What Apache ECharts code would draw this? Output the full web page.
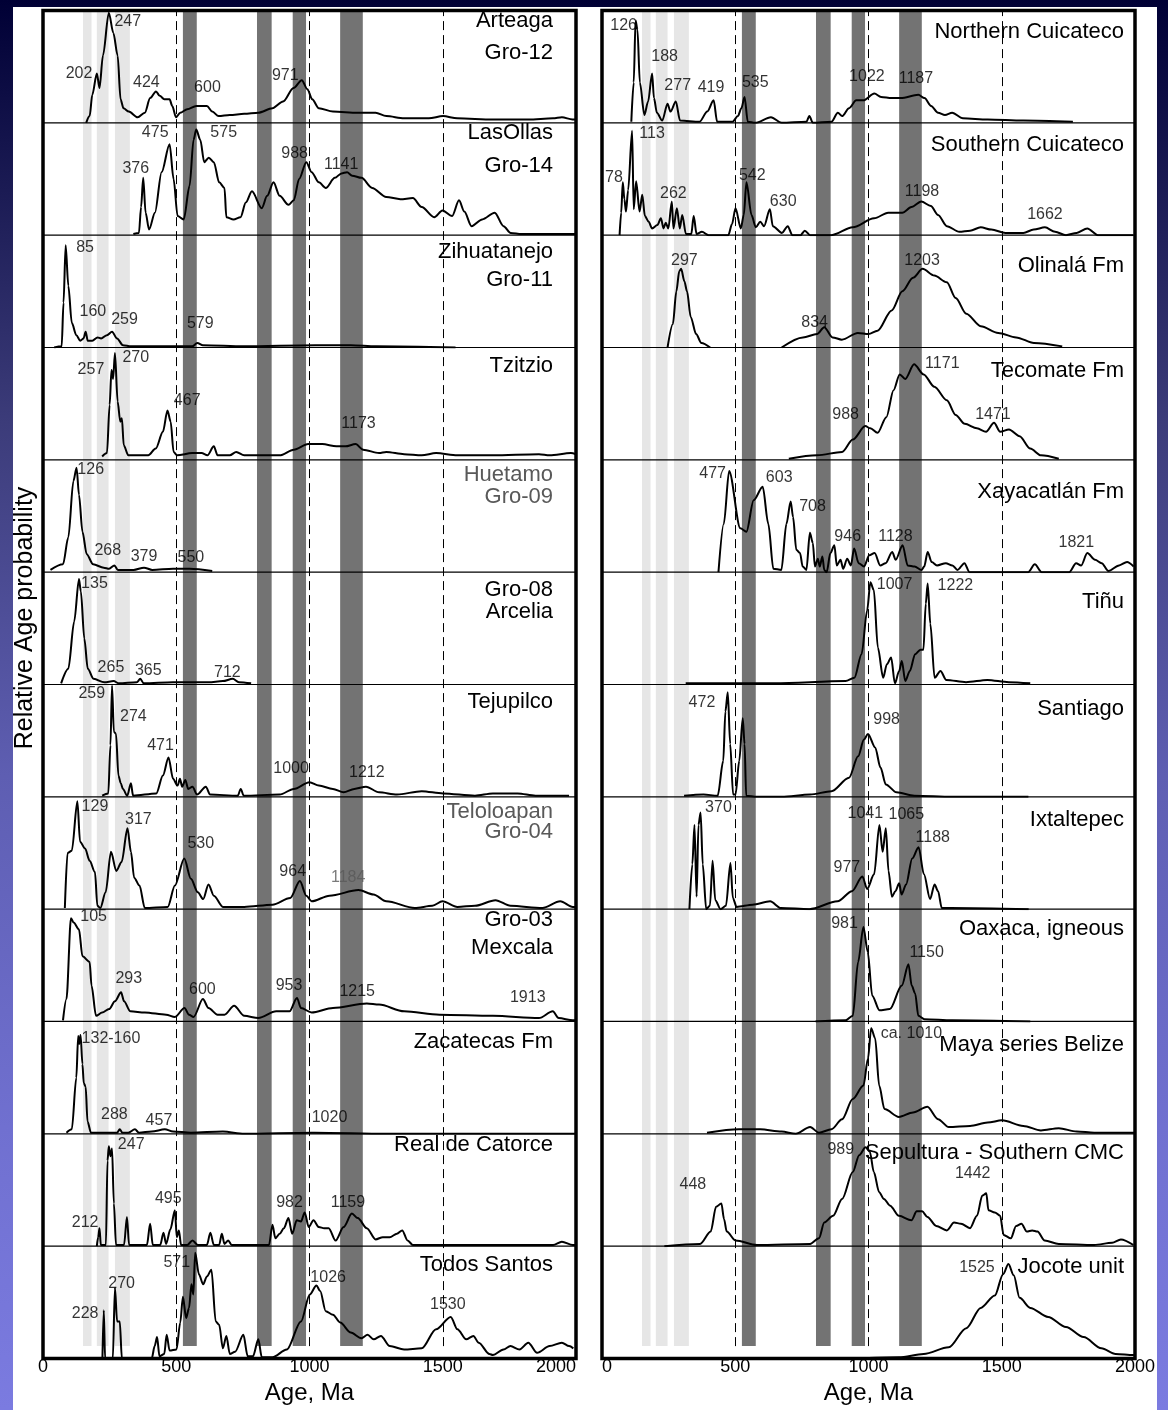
<!DOCTYPE html>
<html>
<head>
<meta charset="utf-8">
<title>Detrital zircon age probability plots</title>
<script src="https://cdn.jsdelivr.net/npm/echarts@6/dist/echarts.min.js"></script>
<style>
  html, body { margin: 0; padding: 0; }
  body {
    width: 1168px; height: 1410px; overflow: hidden; position: relative;
    background: linear-gradient(to bottom, #000035 0%, #3c3c7a 30%, #5e5eb2 55%, #7070d0 80%, #7b7be0 100%);
  }
  #sheet { position: absolute; left: 13px; top: 7px; width: 1144px; height: 1403px; background: #fff; }
  #chart { position: absolute; left: 0; top: 0; width: 1168px; height: 1410px; }
</style>
</head>
<body>
<div id="sheet"></div>
<div id="chart"></div>
<script>
// ---------- data ----------
const ageTicks = [0, 500, 1000, 1500, 2000];
const lightBands = [[150, 182], [202, 246], [270, 326]];
const darkBands = [[525, 577], [803, 858], [937, 987], [1115, 1200]];
const guideAges = [500, 1000, 1500];

const leftNames = [
  ['Arteaga', 'Gro-12'], ['LasOllas', 'Gro-14'], ['Zihuatanejo', 'Gro-11'], ['Tzitzio'],
  ['Huetamo', 'Gro-09'], ['Gro-08', 'Arcelia'], ['Tejupilco'], ['Teloloapan', 'Gro-04'],
  ['Gro-03', 'Mexcala'], ['Zacatecas Fm'], ['Real de Catorce'], ['Todos Santos']
];
const rightNames = [
  ['Northern Cuicateco'], ['Southern Cuicateco'], ['Olinalá Fm'], ['Tecomate Fm'],
  ['Xayacatlán Fm'], ['Tiñu'], ['Santiago'], ['Ixtaltepec'],
  ['Oaxaca, igneous'], ['Maya series Belize'], ['Sepultura - Southern CMC'], ['Jocote unit']
];

// relative probability curves: [age Ma, relative probability %]
const arteaga = [[162,0],[175,6],[185,25],[202,44],[212,31],[225,60],[247,98],[264,80],[280,60],[291,21],[302,13],[322,10],[355,5],[382,9],[402,22],[424,28],[438,24],[455,21],[475,21],[485,15],[499,5],[515,9],[541,12],[575,15],[600,15],[615,15],[635,10],[659,6],[701,7],[755,8],[808,9],[861,13],[901,19],[940,31],[971,38],[992,30],[1010,21],[1035,13],[1088,10],[1181,9],[1248,9],[1288,6],[1355,4],[1448,4],[1501,6],[1554,4],[1688,3],[1821,3],[1914,4],[1947,5],[1987,3],[2000,3]];
const lasOllas = [[339,1],[360,2],[368,25],[376,51],[385,20],[398,5],[420,20],[445,56],[475,81],[490,50],[505,17],[528,14],[550,44],[565,85],[575,94],[590,85],[605,65],[622,69],[641,65],[661,47],[681,42],[688,16],[715,14],[741,16],[761,29],[784,39],[821,24],[841,35],[865,47],[888,35],[921,27],[941,31],[961,50],[988,65],[1008,56],[1035,47],[1061,42],[1095,51],[1120,55],[1141,56],[1160,53],[1195,51],[1235,42],[1288,34],[1341,32],[1388,33],[1421,25],[1468,16],[1499,22],[1535,17],[1561,31],[1581,21],[1608,8],[1648,14],[1695,20],[1728,8],[1755,2],[1795,1],[2000,1]];
const zihuatanejo = [[42,0],[70,1],[77,40],[85,91],[95,55],[108,22],[125,11],[140,6],[152,8],[160,14],[168,6],[185,6],[205,9],[218,8],[240,11],[259,14],[278,8],[300,2],[330,1],[488,1],[560,1],[579,4],[600,2],[755,1],[1021,2],[1155,2],[1250,1],[1548,0]];
const tzitzio = [[222,3],[240,6],[250,49],[257,80],[263,72],[270,95],[280,52],[290,34],[296,37],[303,13],[320,4],[395,4],[423,10],[450,25],[467,44],[479,34],[490,7],[503,4],[560,6],[595,6],[617,4],[641,12],[655,4],[701,4],[725,7],[755,4],[888,4],[941,9],[995,14],[1048,14],[1101,12],[1135,12],[1173,14],[1201,9],[1261,6],[1288,7],[1355,5],[1421,4],[1475,6],[1555,4],[1688,4],[1861,5],[1901,4],[1981,6],[2000,5]];
const huetamo = [[28,2],[75,7],[95,31],[114,81],[126,93],[135,69],[148,36],[164,16],[188,7],[228,4],[248,3],[268,6],[281,2],[340,2],[379,4],[410,2],[488,3],[550,3],[635,1]];
const gro08 = [[68,1],[95,14],[117,56],[135,94],[142,83],[155,41],[168,14],[190,5],[230,2],[265,3],[285,1],[352,2],[365,5],[378,1],[488,2],[621,2],[675,3],[712,5],[735,2],[781,1]];
const tejupilco = [[222,1],[245,3],[253,46],[259,99],[266,58],[274,56],[283,19],[292,12],[300,7],[316,1],[330,12],[338,1],[425,3],[450,19],[471,35],[488,16],[505,10],[514,16],[522,9],[534,15],[545,7],[561,9],[578,2],[611,9],[627,2],[731,1],[742,7],[753,1],[888,2],[941,7],[1000,13],[1035,10],[1088,7],[1128,4],[1168,7],[1212,9],[1261,4],[1328,2],[1421,5],[1501,3],[1621,1],[1688,3],[1781,3],[1848,1],[1974,1]];
const teloloapan = [[82,1],[92,50],[108,52],[129,96],[139,60],[158,54],[175,43],[195,33],[204,3],[215,1],[235,15],[255,51],[275,34],[295,42],[317,72],[330,51],[342,28],[362,21],[382,1],[468,2],[495,21],[530,45],[555,27],[581,15],[601,9],[621,22],[641,12],[675,2],[755,2],[861,4],[928,10],[964,25],[988,12],[1008,7],[1075,12],[1184,17],[1240,13],[1288,7],[1395,1],[1461,3],[1499,7],[1555,2],[1621,3],[1698,8],[1754,3],[1874,1],[1941,7],[1988,2],[2000,2]];
const gro03 = [[75,1],[88,20],[105,92],[115,88],[135,82],[148,58],[175,53],[182,32],[199,5],[222,8],[248,11],[270,18],[293,26],[304,18],[328,9],[382,8],[462,6],[495,4],[531,12],[548,6],[565,4],[600,20],[621,12],[655,6],[681,6],[717,14],[755,5],[808,3],[875,9],[925,9],[953,21],[968,12],[1008,8],[1088,12],[1215,16],[1261,15],[1355,9],[1488,6],[1688,5],[1861,3],[1913,9],[1935,3],[1988,1],[2000,1]];
const zacatecas = [[88,1],[108,4],[125,50],[132,87],[136,80],[141,88],[148,62],[153,45],[160,42],[167,11],[180,1],[242,1],[278,1],[288,4],[298,1],[320,1],[345,4],[360,1],[408,2],[457,4],[488,2],[555,1],[675,2],[755,0],[1008,1],[1020,1],[1288,0],[2000,0]];
const realCatorce = [[202,0],[207,8],[212,16],[217,1],[236,1],[242,76],[247,89],[253,80],[259,87],[266,38],[274,1],[304,1],[315,26],[323,1],[390,1],[402,20],[412,1],[440,1],[452,12],[462,2],[478,15],[495,32],[502,8],[510,14],[518,1],[541,1],[561,5],[581,1],[615,1],[628,12],[641,1],[661,1],[671,11],[681,2],[695,5],[708,1],[848,1],[861,19],[872,7],[888,11],[904,16],[921,25],[935,11],[952,23],[968,22],[982,30],[997,17],[1015,23],[1035,17],[1055,16],[1072,16],[1098,5],[1128,17],[1159,29],[1181,25],[1215,16],[1248,6],[1275,8],[1301,8],[1328,11],[1348,14],[1368,5],[1388,1],[1914,1],[1947,4],[1988,1],[2000,1]];
const todosSantos = [[223,0],[228,43],[233,0],[262,0],[270,63],[278,33],[288,33],[296,0],[408,0],[419,11],[428,19],[437,2],[455,4],[464,21],[475,7],[501,8],[515,32],[525,55],[537,36],[548,45],[557,66],[564,57],[571,94],[585,75],[601,66],[615,73],[632,79],[648,33],[661,30],[675,9],[688,20],[701,4],[721,6],[752,21],[768,2],[788,2],[808,17],[821,1],[861,1],[915,8],[968,33],[1001,57],[1026,65],[1040,60],[1061,42],[1088,39],[1115,32],[1155,23],[1195,18],[1218,21],[1241,17],[1268,20],[1301,11],[1355,8],[1421,9],[1475,26],[1530,37],[1555,26],[1588,17],[1615,20],[1635,14],[1675,4],[1688,3],[1728,8],[1754,11],[1788,8],[1821,14],[1854,5],[1901,11],[1947,14],[1974,11],[1990,9]];

const northernCuicateco = [[110,1],[119,36],[126,91],[133,83],[142,36],[159,7],[173,19],[188,44],[195,22],[206,9],[226,2],[246,17],[257,10],[277,19],[293,2],[366,1],[395,10],[419,20],[432,1],[490,1],[510,6],[523,13],[535,23],[547,1],[575,0],[634,5],[674,0],[767,1],[778,6],[791,0],[861,1],[885,9],[901,6],[927,13],[954,20],[981,20],[1022,26],[1047,23],[1087,22],[1121,22],[1187,25],[1210,22],[1235,15],[1261,9],[1287,7],[1314,9],[1354,4],[1447,3],[1581,2],[1767,1]];
const southernCuicateco = [[66,0],[72,20],[78,47],[84,32],[90,21],[98,40],[113,93],[119,23],[128,48],[141,21],[151,36],[161,17],[175,12],[188,6],[208,9],[221,15],[231,6],[239,11],[249,6],[262,30],[268,6],[281,24],[292,6],[301,18],[315,1],[335,1],[344,17],[355,1],[375,3],[400,0],[474,0],[488,10],[501,24],[521,6],[532,18],[542,47],[561,18],[577,7],[594,12],[608,8],[630,23],[641,8],[675,2],[697,8],[714,0],[745,0],[761,4],[781,0],[861,0],[941,7],[1021,15],[1074,20],[1127,20],[1161,25],[1198,30],[1234,26],[1261,18],[1294,8],[1341,3],[1381,4],[1421,7],[1461,5],[1514,2],[1581,2],[1620,5],[1662,7],[1700,3],[1741,0],[1781,2],[1821,6],[1861,0],[1994,0]];
const olinala = [[246,0],[266,21],[279,50],[290,68],[297,70],[309,59],[319,50],[333,27],[353,12],[373,4],[406,0],[540,'-'],[674,0],[754,9],[807,12],[834,18],[865,9],[900,7],[960,13],[1000,12],[1034,15],[1087,33],[1127,50],[1167,62],[1203,70],[1247,64],[1294,58],[1327,44],[1367,30],[1421,19],[1487,13],[1554,9],[1621,4],[1727,1]];
const tecomate = [[701,1],[807,4],[901,7],[941,18],[988,30],[1007,28],[1034,24],[1067,38],[1094,62],[1117,76],[1138,72],[1171,85],[1207,76],[1247,65],[1294,53],[1327,40],[1361,32],[1407,28],[1441,25],[1471,33],[1494,25],[1527,27],[1567,21],[1607,10],[1647,4],[1714,1]];
const xayacatlan = [[437,0],[457,43],[477,90],[519,39],[542,36],[569,64],[603,76],[624,43],[643,3],[673,2],[692,43],[708,63],[717,49],[729,20],[743,17],[753,5],[767,2],[780,35],[791,26],[799,5],[810,12],[817,5],[827,14],[834,2],[843,0],[857,17],[872,24],[881,6],[895,11],[905,3],[920,12],[934,6],[946,21],[963,8],[983,5],[1003,15],[1023,17],[1044,6],[1064,8],[1089,18],[1102,11],[1128,24],[1147,6],[1173,5],[1199,2],[1209,5],[1222,18],[1237,9],[1257,6],[1290,8],[1315,6],[1334,2],[1360,8],[1379,0],[1599,0],[1624,7],[1650,0],[1753,0],[1779,8],[1798,6],[1821,17],[1850,11],[1875,8],[1900,1],[1940,6],[1970,9],[1995,5]];
const tinu = [[314,1],[648,1],[914,3],[947,6],[974,27],[995,66],[1007,91],[1020,84],[1035,33],[1055,6],[1069,18],[1085,24],[1099,1],[1115,12],[1125,21],[1138,3],[1155,12],[1175,27],[1195,31],[1206,31],[1215,72],[1222,90],[1232,54],[1248,6],[1270,12],[1292,4],[1366,2],[1446,4],[1526,2],[1607,1]];
const santiago = [[308,1],[381,2],[434,1],[455,32],[463,76],[472,93],[481,47],[492,2],[501,2],[515,32],[528,70],[535,47],[541,1],[581,0],[674,0],[781,2],[861,5],[927,17],[961,36],[983,51],[998,56],[1025,44],[1045,26],[1065,11],[1105,4],[1172,1],[1314,0],[1600,0]];
const ixtaltepec = [[328,0],[339,40],[347,75],[355,11],[362,75],[370,86],[378,40],[391,0],[405,3],[415,43],[425,8],[445,0],[465,3],[482,41],[491,10],[505,2],[565,4],[631,7],[671,1],[778,0],[884,7],[938,16],[977,29],[995,18],[1021,31],[1041,75],[1053,51],[1065,72],[1075,34],[1088,11],[1101,16],[1115,23],[1124,13],[1141,22],[1164,45],[1188,55],[1208,31],[1231,9],[1248,22],[1261,16],[1275,1],[1308,1],[1601,0]];
const oaxacaIgneous = [[801,0],[914,1],[941,5],[961,53],[981,84],[997,62],[1014,23],[1041,10],[1080,11],[1125,32],[1150,51],[1162,32],[1175,25],[1187,5],[1210,2],[1314,1],[1607,0]];
const mayaBelize = [[394,1],[514,4],[594,4],[674,2],[727,0],[781,6],[814,1],[861,4],[901,13],[941,31],[981,43],[998,67],[1010,94],[1025,85],[1040,43],[1060,22],[1114,15],[1167,19],[1221,24],[1261,13],[1301,6],[1381,7],[1447,10],[1501,12],[1581,7],[1647,3],[1714,5],[1781,2],[1847,1],[2000,1]];
const sepultura = [[234,0],[368,2],[408,13],[428,35],[448,38],[458,24],[468,13],[501,5],[581,1],[781,2],[814,7],[834,21],[867,27],[901,42],[941,66],[965,81],[989,88],[1005,84],[1020,66],[1040,48],[1058,42],[1081,36],[1114,27],[1161,23],[1181,31],[1201,31],[1221,26],[1254,18],[1294,14],[1321,21],[1347,20],[1381,16],[1407,27],[1427,45],[1442,47],[1450,32],[1474,30],[1494,27],[1507,10],[1534,7],[1554,18],[1574,20],[1594,13],[1614,14],[1634,13],[1661,5],[1714,2],[1847,1],[1914,3],[1947,6],[1994,1]];
const jocote = [[947,0],[1114,1],[1207,4],[1301,10],[1367,27],[1421,45],[1474,56],[1505,75],[1525,84],[1545,74],[1567,54],[1607,45],[1674,37],[1741,28],[1807,19],[1874,9],[1927,4],[1994,3],[2000,3]];

const leftCurves = [arteaga, lasOllas, zihuatanejo, tzitzio, huetamo, gro08, tejupilco, teloloapan, gro03, zacatecas, realCatorce, todosSantos];
const rightCurves = [northernCuicateco, southernCuicateco, olinala, tecomate, xayacatlan, tinu, santiago, ixtaltepec, oaxacaIgneous, mayaBelize, sepultura, jocote];

// peak age annotations: [text, age Ma, level %]
const leftPeaks = [
  [['247',318,90],['202',135,44],['424',388,36],['600',617,31],['971',909,42]],
  [['475',421,91],['575',678,91],['376',348,59],['988',944,73],['1141',1119,63]],
  [['85',158,89],['160',187,32],['259',306,25],['579',590,21]],
  [['270',348,91],['257',180,80],['467',541,53],['1173',1184,32]],
  [['126',179,91],['268',243,19],['379',379,14],['550',555,13]],
  [['135',193,90],['265',255,15],['365',395,12],['712',692,11]],
  [['259',183,92],['274',339,71],['471',441,46],['1000',931,25],['1212',1215,22]],
  [['129',195,91],['317',358,80],['530',592,58],['964',937,33],['1184',1145,28]],
  [['105',190,93],['293',322,38],['600',598,28],['953',923,32],['1215',1179,27],['1913',1819,21]],
  [['132-160',255,85],['288',268,17],['457',435,12],['1020',1075,14]],
  [['247',331,90],['212',158,21],['495',470,42],['982',925,39],['1159',1144,39]],
  [['571',502,85],['270',295,67],['228',158,40],['1026',1070,72],['1530',1519,48]]
];
const rightPeaks = [
  [['126',81,87],['188',235,59],['277',284,33],['419',409,31],['535',575,36],['1022',994,41],['1187',1178,39]],
  [['113',188,90],['78',45,51],['262',268,37],['542',564,53],['630',680,30],['1198',1201,39],['1662',1662,18]],
  [['297',309,77],['1203',1201,77],['834',798,22]],
  [['1171',1277,86],['988',914,40],['1471',1467,40]],
  [['477',415,88],['603',665,84],['708',790,58],['946',922,32],['1128',1101,32],['1821',1780,26]],
  [['1007',1098,89],['1222',1326,88]],
  [['472',375,84],['998',1068,69]],
  [['370',437,90],['1041',988,85],['1065',1142,84],['1188',1241,64],['977',919,37]],
  [['981',910,87],['1150',1218,61]],
  [['ca. 1010',1161,89]],
  [['989',896,86],['448',341,55],['1442',1391,65]],
  [['1525',1407,81]]
];

// ---------- layout ----------
const FONT = "'Liberation Sans', Arial, Helvetica, sans-serif";
const PANEL_LEFT = [43, 602];
const PANEL_WIDTH = 533;
const PANEL_TOP = 10.5;
const ROW_H = 112.33;
const ROWS = 12;
const TITLE_RIGHT = [553, 1124];
const leftTitleDy = [[10.5,42.5],[10,43],[17,45],[18.5],[15,37],[18,40],[17.5],[15,35],[11,39],[20.5],[11],[19]];
const rightTitleDy = [[21.5],[22],[31],[23.5],[32],[30],[24.5],[23],[20],[23.5],[19],[21]];
const MUTED = '#595959';
const mutedTitleRows = [4, 7];          // grey sample names in the left column
const mutedPeakTexts = { '7': ['1184'] }; // grey annotation in the Teloloapan row

const chart = echarts.init(document.getElementById('chart'), null, { renderer: 'canvas' });

const grids = [], xAxes = [], yAxes = [], series = [], elements = [];

// full-height panels: reference bands, dashed guides and the age axis
[0, 1].forEach(p => {
  grids.push({ left: PANEL_LEFT[p], top: PANEL_TOP, width: PANEL_WIDTH, height: ROW_H * ROWS });
  xAxes.push({
    type: 'value', gridIndex: p, min: ageTicks[0], max: ageTicks[ageTicks.length - 1], interval: 500,
    axisLine: { show: false }, axisTick: { show: false }, splitLine: { show: false },
    axisLabel: {
      fontFamily: FONT, fontSize: 18, color: '#000', margin: 12, formatter: v => String(v),
      alignMaxLabel: p === 0 ? 'right' : null,
      alignMinLabel: p === 1 ? 'left' : null
    },
    name: 'Age, Ma', nameLocation: 'middle', nameGap: 33,
    nameTextStyle: { fontFamily: FONT, fontSize: 24, color: '#000' }
  });
  yAxes.push({ type: 'value', gridIndex: p, min: 0, max: 1, show: false });
  const areas = [];
  lightBands.forEach(([a, b]) => areas.push([{ xAxis: a, itemStyle: { color: '#e6e6e6' } }, { xAxis: b }]));
  darkBands.forEach(([a, b]) => areas.push([{ xAxis: a, itemStyle: { color: '#737373' } }, { xAxis: b }]));
  series.push({
    type: 'line', xAxisIndex: p, yAxisIndex: p, data: [[0, 0], [2000, 0]],
    symbol: 'none', lineStyle: { opacity: 0 }, silent: true, z: 1,
    markArea: { silent: true, data: areas },
    markLine: {
      silent: true, symbol: 'none', label: { show: false },
      lineStyle: { color: '#000', width: 1, type: [9, 5] },
      data: guideAges.map(a => ({ xAxis: a }))
    }
  });
});

// one strip per sample
const columns = [
  { curves: leftCurves, peaks: leftPeaks, names: leftNames, dy: leftTitleDy },
  { curves: rightCurves, peaks: rightPeaks, names: rightNames, dy: rightTitleDy }
];
columns.forEach((col, p) => {
  for (let r = 0; r < ROWS; r++) {
    const gi = grids.length;
    const top = PANEL_TOP + r * ROW_H;
    grids.push({ left: PANEL_LEFT[p], top: top, width: PANEL_WIDTH, height: ROW_H });
    xAxes.push({ type: 'value', gridIndex: gi, min: 0, max: 2000, show: false });
    yAxes.push({ type: 'value', gridIndex: gi, min: 0, max: 100, show: false });
    series.push({
      type: 'line', xAxisIndex: gi, yAxisIndex: gi, data: col.curves[r],
      smooth: 0.3, smoothMonotone: 'x', symbol: 'none', connectNulls: false,
      lineStyle: { color: '#000', width: 2 }, silent: true, z: 3
    });
    const greyTexts = (p === 0 && mutedPeakTexts[String(r)]) || [];
    series.push({
      type: 'scatter', xAxisIndex: gi, yAxisIndex: gi, symbolSize: 1, silent: true, z: 4,
      itemStyle: { color: 'rgba(0,0,0,0)' },
      data: col.peaks[r].map(([t, a, l]) => ({
        name: t, value: [a, l],
        label: { color: greyTexts.indexOf(t) >= 0 ? MUTED : '#000' }
      })),
      label: { show: true, position: 'inside', formatter: '{b}', fontFamily: FONT, fontSize: 16, color: '#000' }
    });
    // sample name
    const muted = p === 0 && mutedTitleRows.indexOf(r) >= 0;
    col.names[r].forEach((line, k) => {
      elements.push({
        type: 'text', z: 70, silent: true,
        style: {
          text: line, x: TITLE_RIGHT[p], y: top + col.dy[r][k],
          textAlign: 'right', textVerticalAlign: 'middle',
          font: '22px ' + FONT, fill: muted ? MUTED : '#000'
        }
      });
    });
    // strip separator
    if (r > 0) {
      elements.push({
        type: 'line', z: 60, silent: true,
        shape: { x1: PANEL_LEFT[p], y1: top, x2: PANEL_LEFT[p] + PANEL_WIDTH, y2: top },
        style: { stroke: '#000', lineWidth: 1.2 }
      });
    }
  }
  // panel frame
  elements.push({
    type: 'rect', z: 80, silent: true,
    shape: { x: PANEL_LEFT[p], y: PANEL_TOP, width: PANEL_WIDTH, height: ROW_H * ROWS },
    style: { fill: 'none', stroke: '#000', lineWidth: 3.5 }
  });
});

// vertical axis title
elements.push({
  type: 'text', x: 25, y: 618, rotation: Math.PI / 2, z: 70, silent: true,
  style: {
    text: 'Relative Age probability', x: 0, y: 0,
    textAlign: 'center', textVerticalAlign: 'middle', font: '25px ' + FONT, fill: '#000'
  }
});

chart.setOption({
  backgroundColor: 'transparent',
  animation: false,
  grid: grids,
  xAxis: xAxes,
  yAxis: yAxes,
  series: series,
  graphic: { elements: elements }
});
</script>
</body>
</html>
